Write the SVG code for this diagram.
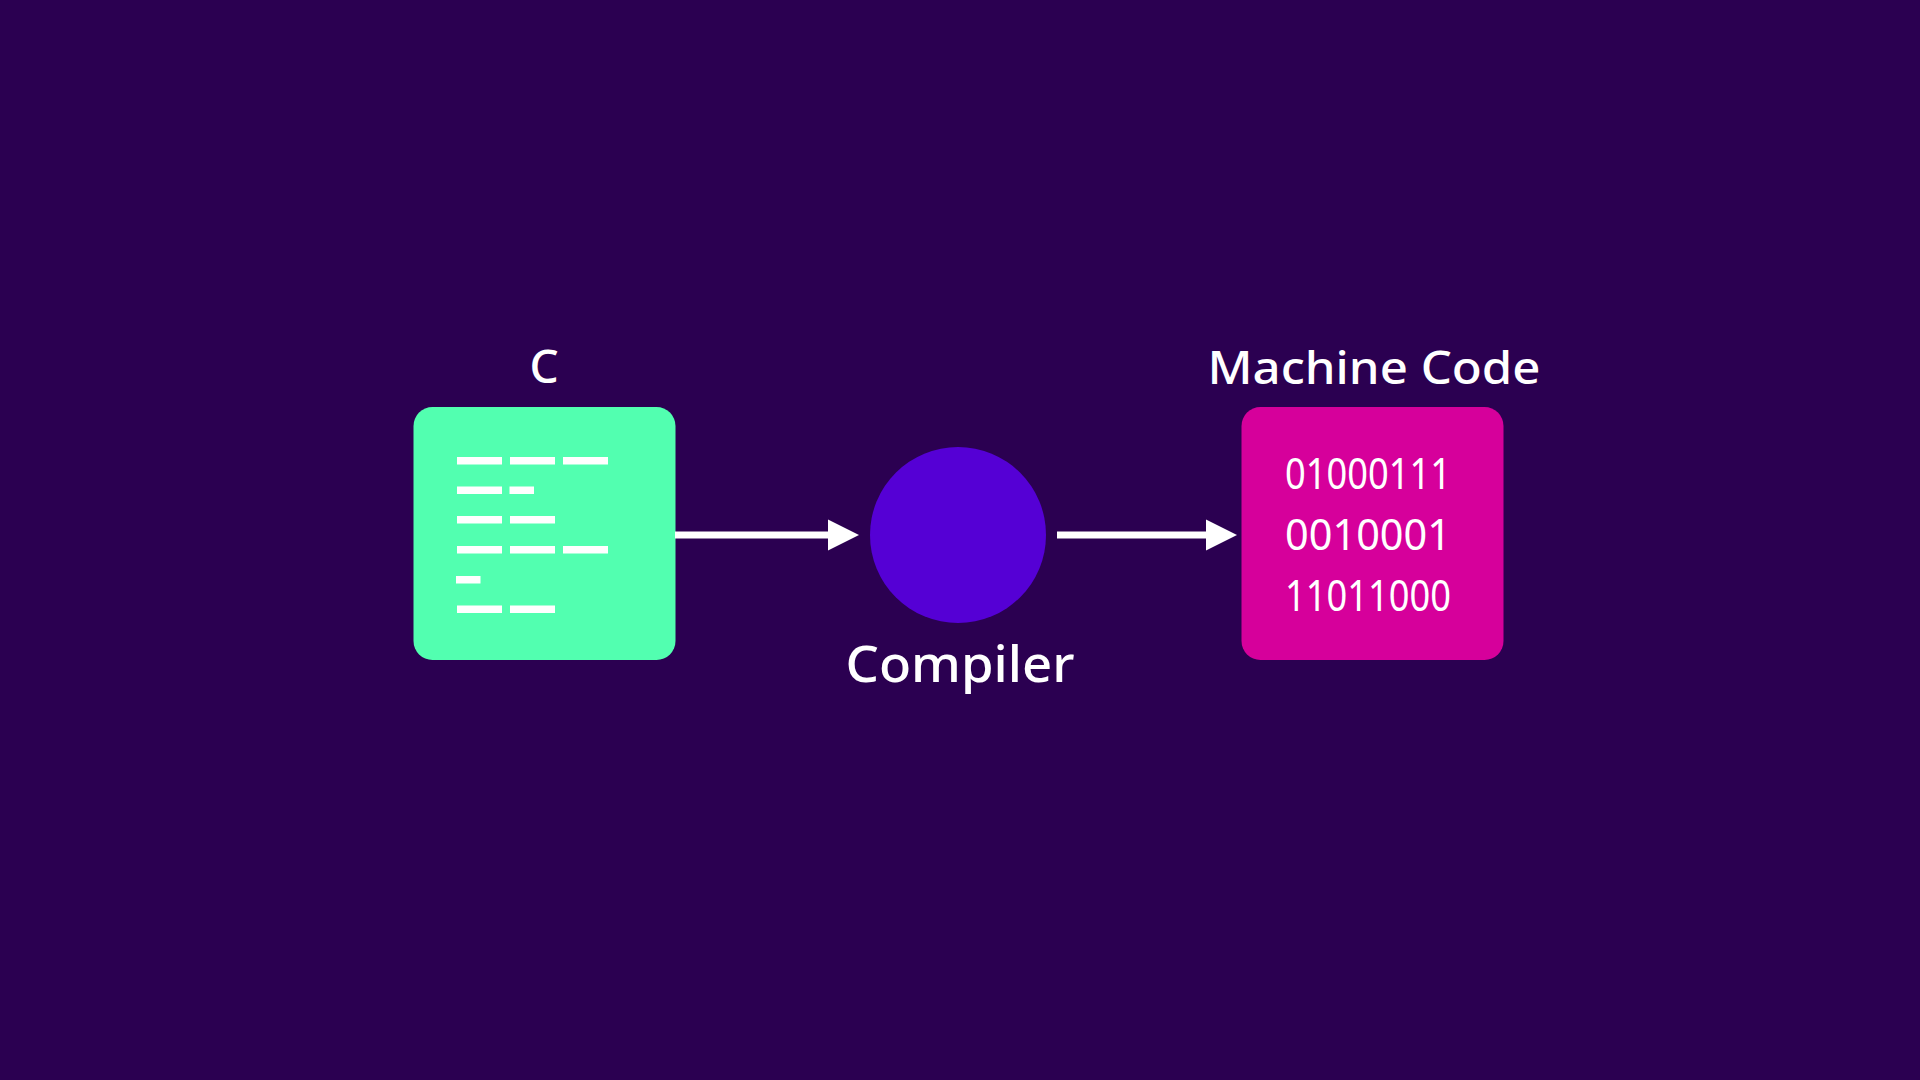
<svg xmlns="http://www.w3.org/2000/svg" width="1920" height="1080" viewBox="0 0 1920 1080">
<defs>
<style>
.lbl{font-family:"Noto Sans","Liberation Sans",sans-serif;fill:#ffffff;font-weight:500}
.code rect{fill:#ffffff}
.bin{font-family:"Noto Sans","Liberation Sans",sans-serif;fill:#ffffff;font-size:44px;font-weight:400}
.conn{stroke:#ffffff;stroke-width:7;fill:none}
</style>
<marker id="ah" markerUnits="userSpaceOnUse" markerWidth="32" markerHeight="32" refX="2" refY="16" orient="auto">
<polygon points="0,0.5 31,16 0,31.5" fill="#ffffff"/>
</marker>
</defs>
<rect width="1920" height="1080" fill="#2b0051"/>
<g id="node-c">
<text class="lbl" x="544" y="383" font-size="46" text-anchor="middle">C</text>
<rect x="413.5" y="407" width="262" height="253" rx="19" fill="#52ffb0"/>
<g class="code">
<rect x="457" y="457" width="45" height="7.5"/>
<rect x="510" y="457" width="45" height="7.5"/>
<rect x="563" y="457" width="45" height="7.5"/>
<rect x="457" y="486.5" width="45" height="7.5"/>
<rect x="509.5" y="486.5" width="24.5" height="7.5"/>
<rect x="457" y="516" width="45" height="7.5"/>
<rect x="510" y="516" width="45" height="7.5"/>
<rect x="457" y="546" width="45" height="7.5"/>
<rect x="510" y="546" width="45" height="7.5"/>
<rect x="563" y="546" width="45" height="7.5"/>
<rect x="456" y="576" width="24.5" height="7.5"/>
<rect x="457" y="605.5" width="45" height="7.5"/>
<rect x="510" y="605.5" width="45" height="7.5"/>
</g>
</g>
<g id="node-compiler">
<circle cx="958" cy="535" r="88" fill="#5500d5"/>
<text class="lbl" x="960" y="682" font-size="50" text-anchor="middle" textLength="229" lengthAdjust="spacingAndGlyphs">Compiler</text>
</g>
<g id="node-machine">
<text class="lbl" x="1374" y="384" font-size="45" text-anchor="middle" textLength="333" lengthAdjust="spacingAndGlyphs">Machine Code</text>
<rect x="1241.5" y="407" width="262" height="253" rx="19" fill="#d6009b"/>
<text class="bin" x="1285" y="488.5" textLength="166" lengthAdjust="spacingAndGlyphs">01000111</text>
<text class="bin" x="1285" y="550" textLength="166" lengthAdjust="spacingAndGlyphs">0010001</text>
<text class="bin" x="1285" y="610.5" textLength="166" lengthAdjust="spacingAndGlyphs">11011000</text>
</g>
<g id="connectors">
<line class="conn" x1="675" y1="535" x2="830" y2="535" marker-end="url(#ah)"/>
<line class="conn" x1="1057" y1="535" x2="1208" y2="535" marker-end="url(#ah)"/>
</g>
</svg>
